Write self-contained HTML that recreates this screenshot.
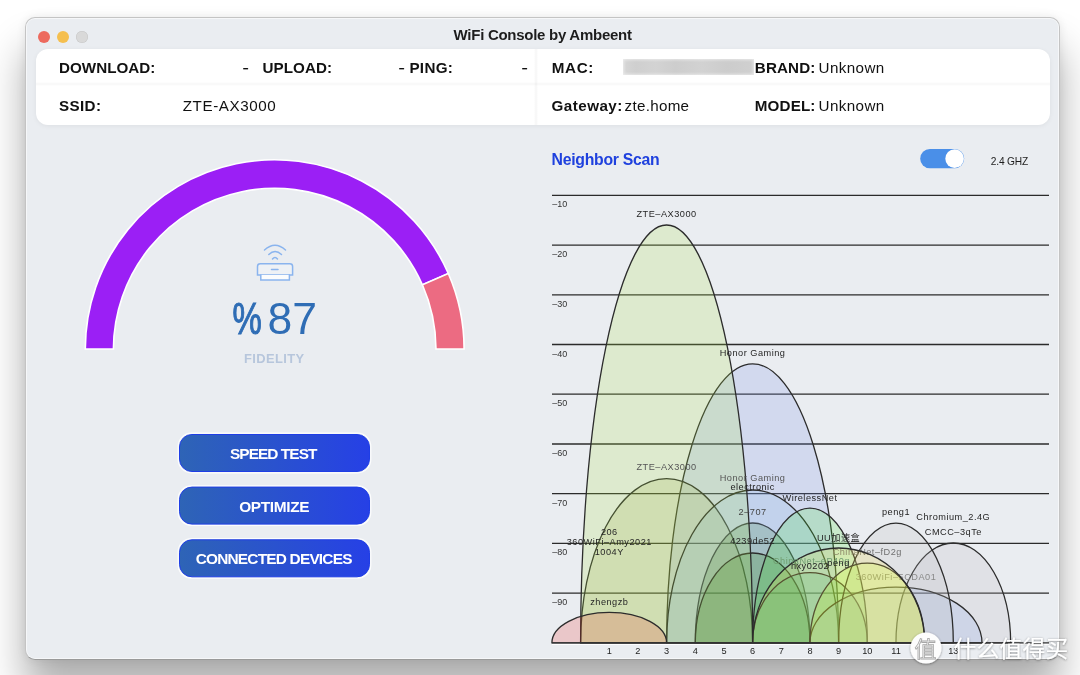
<!DOCTYPE html>
<html><head><meta charset="utf-8"><title>WiFi Console by Ambeent</title><style>
html,body{margin:0;padding:0;}
body{width:1080px;height:675px;overflow:hidden;position:relative;background:#fff;font-family:"Liberation Sans","Noto Sans CJK SC",sans-serif;}
.win{position:absolute;left:25px;top:17px;width:1033px;height:641px;border:1px solid #c4c4c4;border-bottom-color:#9a9a9a;border-radius:10px;background:#eaedf1;
  box-shadow:0 32px 40px 0px rgba(0,0,0,0.32), 0 0 10px rgba(0,0,0,0.08);overflow:hidden;}
.win:after{content:"";position:absolute;left:0;top:0;right:0;bottom:0;border-radius:9px;box-shadow:inset 0 0 0 1px rgba(255,255,255,0.55);}
.tl{position:absolute;top:13px;width:12px;height:12px;border-radius:50%;}
.panel{position:absolute;left:10px;top:31px;width:1014px;height:76px;background:#fff;border-radius:12px;box-shadow:0 1px 5px rgba(0,0,0,0.06);overflow:hidden;}
.abs{position:absolute;}
svg text{font-family:"Liberation Sans","Noto Sans CJK SC",sans-serif;}
.yl{font-size:9px;fill:#333;}
.nl{font-size:9.2px;text-anchor:middle;letter-spacing:0.5px;}
.xl{font-size:9.2px;text-anchor:middle;fill:#222;}
.wm{font-family:"Noto Sans CJK SC","WenQuanYi Zen Hei",sans-serif;}
</style></head><body>
<div class="win">
  <div class="tl" style="left:12px;background:#ed6a5e;"></div>
  <div class="tl" style="left:31px;background:#f5bf4f;"></div>
  <div class="tl" style="left:50px;background:#d9d9d9;box-shadow:inset 0 0 0 0.5px #c6c6c6;"></div>
  <div class="panel">
    <div class="abs" style="left:0;top:33px;width:1014px;height:4px;background:linear-gradient(180deg,rgba(0,0,0,0),rgba(0,0,0,0.03),rgba(0,0,0,0));"></div>
    <div class="abs" style="left:498px;top:0;width:4px;height:76px;background:linear-gradient(90deg,rgba(0,0,0,0),rgba(0,0,0,0.04),rgba(0,0,0,0));"></div>
  </div>
</div>
<div class="abs" style="left:622.8px;top:59.2px;width:131.4px;height:16px;background:linear-gradient(90deg,#d6d6d6 0%,#cfcfcf 10%,#d3d3d3 25%,#cdcdcd 40%,#d2d2d2 60%,#cccccc 80%,#d0d0d0 100%);box-shadow:inset 0 0 3px 1px rgba(255,255,255,0.55);"></div>

<svg class="abs" style="left:0;top:0;will-change:transform;" width="1080" height="675" viewBox="0 0 1080 675">
  <defs>
    <linearGradient id="bg1" x1="0" x2="1" y1="0" y2="0"><stop offset="0" stop-color="#2e64b6"/><stop offset="1" stop-color="#2640e6"/></linearGradient>
    <filter id="wsh" x="-20%" y="-20%" width="140%" height="140%"><feDropShadow dx="0" dy="0.6" stdDeviation="0.9" flood-color="#000" flood-opacity="0.45"/></filter>
  </defs>
  <text x="453.6" y="39.5" font-size="15.0" font-weight="bold" letter-spacing="-0.273" fill="#1d1d1d" >WiFi Console by Ambeent</text>
<text x="59.0" y="72.5" font-size="15.2" font-weight="bold" letter-spacing="0.031" fill="#111" >DOWNLOAD:</text>
<text x="262.6" y="72.5" font-size="15.2" font-weight="bold" letter-spacing="0.05" fill="#111" >UPLOAD:</text>
<text x="409.4" y="72.5" font-size="15.2" font-weight="bold" letter-spacing="0.325" fill="#111" >PING:</text>
<text x="551.7" y="72.5" font-size="15.2" font-weight="bold" letter-spacing="0.667" fill="#111" >MAC:</text>
<text x="754.8" y="72.5" font-size="15.2" font-weight="bold" letter-spacing="0.14" fill="#111" >BRAND:</text>
<text x="818.6" y="72.5" font-size="15.2" font-weight="normal" letter-spacing="0.383" fill="#111" >Unknown</text>
<text x="59.0" y="110.7" font-size="15.2" font-weight="bold" letter-spacing="0.375" fill="#111" >SSID:</text>
<text x="182.75" y="110.7" font-size="15.2" font-weight="normal" letter-spacing="0.583" fill="#111" >ZTE-AX3000</text>
<text x="551.6" y="110.7" font-size="15.2" font-weight="bold" letter-spacing="0.443" fill="#111" >Gateway:</text>
<text x="624.6" y="110.7" font-size="15.2" font-weight="normal" letter-spacing="0.286" fill="#111" >zte.home</text>
<text x="754.8" y="110.7" font-size="15.2" font-weight="bold" letter-spacing="0.14" fill="#111" >MODEL:</text>
<text x="818.6" y="110.7" font-size="15.2" letter-spacing="0.383" fill="#111">Unknown</text>
<text transform="translate(242.4,72.6) scale(1.25,1)" font-size="15.2" fill="#111" stroke="#111" stroke-width="0.25">-</text>
<text transform="translate(398.6,72.6) scale(1.25,1)" font-size="15.2" fill="#111" stroke="#111" stroke-width="0.25">-</text>
<text transform="translate(521.4,72.6) scale(1.25,1)" font-size="15.2" fill="#111" stroke="#111" stroke-width="0.25">-</text>
  <!-- gauge -->
  <path d="M 85.3 349 A 189.4 189.4 0 0 1 448.3 273.5 L 422.4 284.8 A 161.3 161.3 0 0 0 113.4 349 Z" fill="#9b1ff5" stroke="#fff" stroke-width="1.6" stroke-linejoin="miter"/>
  <path d="M 448.3 273.5 A 189.4 189.4 0 0 1 464.1 349 L 436 349 A 161.3 161.3 0 0 0 422.4 284.8 Z" fill="#ec6b82" stroke="#fff" stroke-width="1.6"/>
  <g fill="none" stroke="#8ab4ee" stroke-width="1.5" stroke-linecap="round">
    <path d="M264.5,250 Q275,240.5 285.5,250"/>
    <path d="M268.8,254.5 Q275,248.5 281.5,254.5"/>
    <path d="M272.5,259 Q275,255.8 277.5,259"/>
    <path d="M257.5,275 L257.5,266.5 Q257.5,263.8 260.3,263.8 L289.8,263.8 Q292.6,263.8 292.6,266.5 L292.6,275 Z" fill="#eef1f5"/>
    <path d="M260.8,275 L260.8,280 L289.4,280 L289.4,275" fill="#fbfcfd"/>
    <path d="M271.5,269.5 L278,269.5"/>
  </g>
  <text transform="translate(232.4,333.8) scale(0.74,1)" font-size="44.5" fill="#2f6db5" stroke="#2f6db5" stroke-width="1.1">%</text>
  <text x="267.4" y="333.8" font-size="44.5" fill="#2f6db5">87</text>
  <text x="244.1" y="362.9" font-size="12.9" font-weight="bold" letter-spacing="0.386" fill="#b7c6dc" >FIDELITY</text>
  <!-- buttons -->
  <rect x="178.2" y="433.2" width="192.6" height="39.6" rx="13.2" fill="none" stroke="#fff" stroke-opacity="0.85" stroke-width="1.2"/>
  <rect x="179.5" y="434.5" width="190" height="37" rx="12.5" fill="url(#bg1)" stroke="#1f3ee6" stroke-width="1"/>
  <rect x="178.2" y="485.8" width="192.6" height="39.6" rx="13.2" fill="none" stroke="#fff" stroke-opacity="0.85" stroke-width="1.2"/>
  <rect x="179.5" y="487.1" width="190" height="37" rx="12.5" fill="url(#bg1)" stroke="#1f3ee6" stroke-width="1"/>
  <rect x="178.2" y="538.5" width="192.6" height="39.6" rx="13.2" fill="none" stroke="#fff" stroke-opacity="0.85" stroke-width="1.2"/>
  <rect x="179.5" y="539.8" width="190" height="37" rx="12.5" fill="url(#bg1)" stroke="#1f3ee6" stroke-width="1"/>
  <text x="230.0" y="459.0" font-size="15.4" font-weight="bold" letter-spacing="-0.933" fill="#fff" >SPEED TEST</text>
  <text x="239.2" y="512.0" font-size="15.4" font-weight="bold" letter-spacing="-0.343" fill="#fff" >OPTIMIZE</text>
  <text x="195.7" y="564.2" font-size="15.4" font-weight="bold" letter-spacing="-0.787" fill="#fff" >CONNECTED DEVICES</text>
  <text x="551.6" y="165.2" font-size="15.8" font-weight="bold" letter-spacing="-0.275" fill="#1f41de" >Neighbor Scan</text>
  <rect x="920.2" y="149" width="44" height="19.3" rx="9.65" fill="#4a8fe8"/>
  <circle cx="954.6" cy="158.65" r="9.3" fill="#fff"/>
  <text x="990.8" y="164.7" font-size="10.2" font-weight="normal" letter-spacing="-0.183" fill="#1e1e1e" >2.4 GHZ</text>
  <line x1="552" y1="195.4" x2="1049" y2="195.4" stroke="#2b2b2b" stroke-width="1.3"/>
<text x="552.3" y="207.4" class="yl">–10</text>
<line x1="552" y1="245.1" x2="1049" y2="245.1" stroke="#2b2b2b" stroke-width="1.3"/>
<text x="552.3" y="257.1" class="yl">–20</text>
<line x1="552" y1="294.8" x2="1049" y2="294.8" stroke="#2b2b2b" stroke-width="1.3"/>
<text x="552.3" y="306.8" class="yl">–30</text>
<line x1="552" y1="344.5" x2="1049" y2="344.5" stroke="#2b2b2b" stroke-width="1.3"/>
<text x="552.3" y="356.5" class="yl">–40</text>
<line x1="552" y1="394.2" x2="1049" y2="394.2" stroke="#2b2b2b" stroke-width="1.3"/>
<text x="552.3" y="406.2" class="yl">–50</text>
<line x1="552" y1="444.0" x2="1049" y2="444.0" stroke="#2b2b2b" stroke-width="1.3"/>
<text x="552.3" y="456.0" class="yl">–60</text>
<line x1="552" y1="493.7" x2="1049" y2="493.7" stroke="#2b2b2b" stroke-width="1.3"/>
<text x="552.3" y="505.7" class="yl">–70</text>
<line x1="552" y1="543.4" x2="1049" y2="543.4" stroke="#2b2b2b" stroke-width="1.3"/>
<text x="552.3" y="555.4" class="yl">–80</text>
<line x1="552" y1="593.1" x2="1049" y2="593.1" stroke="#2b2b2b" stroke-width="1.3"/>
<text x="552.3" y="605.1" class="yl">–90</text>
<path d="M666.61,642.8 A86.01,279.00 0 0 1 838.63,642.8 Z" fill="rgba(115,139,232,0.2)" stroke="#2c2c2c" stroke-width="1.3"/>
<path d="M580.60,642.8 A86.01,164.20 0 0 1 752.62,642.8 Z" fill="rgba(148,159,62,0.2)" stroke="#2c2c2c" stroke-width="1.3"/>
<path d="M695.28,642.8 A57.34,119.80 0 0 1 809.96,642.8 Z" fill="rgba(27,99,0,0.2)" stroke="#2c2c2c" stroke-width="1.3"/>
<path d="M666.61,642.8 A86.01,152.80 0 0 1 838.63,642.8 Z" fill="rgba(131,179,224,0.2)" stroke="#2c2c2c" stroke-width="1.3"/>
<path d="M695.28,642.8 A57.34,89.80 0 0 1 809.96,642.8 Z" fill="rgba(33,127,4,0.2)" stroke="#2c2c2c" stroke-width="1.3"/>
<path d="M580.60,642.8 A86.01,417.80 0 0 1 752.62,642.8 Z" fill="rgba(172,223,68,0.2)" stroke="#2c2c2c" stroke-width="1.3"/>
<path d="M752.62,642.8 A57.34,134.80 0 0 1 867.30,642.8 Z" fill="rgba(70,225,52,0.2)" stroke="#2c2c2c" stroke-width="1.3"/>
<path d="M551.93,642.8 A57.34,30.40 0 0 1 666.61,642.8 Z" fill="rgba(236,48,43,0.2)" stroke="#2c2c2c" stroke-width="1.3"/>
<path d="M752.62,642.8 A57.34,70.30 0 0 1 867.30,642.8 Z" fill="rgba(47,173,126,0.2)" stroke="#2c2c2c" stroke-width="1.3"/>
<path d="M895.97,642.8 A57.34,99.80 0 0 1 1010.65,642.8 Z" fill="rgba(184,181,189,0.2)" stroke="#2c2c2c" stroke-width="1.3"/>
<path d="M809.96,642.8 A86.01,55.80 0 0 1 981.98,642.8 Z" fill="rgba(137,165,232,0.2)" stroke="#2c2c2c" stroke-width="1.3"/>
<text x="896.0" y="580.0" class="nl" fill="#7c7c7c">360WiFi–5CDA01</text>
<path d="M838.63,642.8 A57.34,119.80 0 0 1 953.31,642.8 Z" fill="rgba(183,187,184,0.2)" stroke="#2c2c2c" stroke-width="1.3"/>
<path d="M809.96,642.8 A57.34,79.80 0 0 1 924.64,642.8 Z" fill="rgba(192,255,12,0.2)" stroke="#2c2c2c" stroke-width="1.3"/>
<text x="867.3" y="555.0" class="nl" fill="#707070">ChinaNet–fD2g</text>
<path d="M752.62,642.8 A86.01,94.80 0 0 1 924.64,642.8 Z" fill="rgba(255,232,69,0.2)" stroke="#2c2c2c" stroke-width="1.3"/>
<line x1="552" y1="644.4" x2="1049" y2="644.4" stroke="#fff" stroke-width="1"/>
<line x1="552" y1="642.8" x2="1049" y2="642.8" stroke="#333" stroke-width="1.2"/>
<text x="666.6" y="217.0" class="nl" fill="#262626">ZTE–AX3000</text>
<text x="752.6" y="356.0" class="nl" fill="#262626">Honor Gaming</text>
<text x="666.6" y="470.0" class="nl" fill="#555">ZTE–AX3000</text>
<text x="752.6" y="481.0" class="nl" fill="#555">Honor Gaming</text>
<text x="752.6" y="490.0" class="nl" fill="#222">electronic</text>
<text x="810.0" y="500.7" class="nl" fill="#262626">WirelessNet</text>
<text x="752.6" y="515.0" class="nl" fill="#444">2–707</text>
<text x="896.0" y="515.0" class="nl" fill="#222">peng1</text>
<text x="953.3" y="520.0" class="nl" fill="#262626">Chromium_2.4G</text>
<text x="609.3" y="535.0" class="nl" fill="#262626">206</text>
<text x="953.3" y="535.0" class="nl" fill="#262626">CMCC–3qTe</text>
<text x="838.6" y="541.0" class="nl" fill="#262626">UU加速盒</text>
<text x="609.3" y="545.0" class="nl" fill="#262626">360WiFi–Amy2021</text>
<text x="752.6" y="544.4" class="nl" fill="#262626">4239de52</text>
<text x="609.3" y="555.0" class="nl" fill="#262626">1004Y</text>
<text x="811.4" y="564.0" class="nl" fill="#6f9d6f">ChinaNet–eP40g</text>
<text x="810.0" y="569.0" class="nl" fill="#222">hxy0202</text>
<text x="838.6" y="566.0" class="nl" fill="#222">peng</text>
<text x="609.3" y="605.0" class="nl" fill="#262626">zhengzb</text>
<text x="609.3" y="653.8" class="xl">1</text>
<text x="637.9" y="653.8" class="xl">2</text>
<text x="666.6" y="653.8" class="xl">3</text>
<text x="695.3" y="653.8" class="xl">4</text>
<text x="724.0" y="653.8" class="xl">5</text>
<text x="752.6" y="653.8" class="xl">6</text>
<text x="781.3" y="653.8" class="xl">7</text>
<text x="810.0" y="653.8" class="xl">8</text>
<text x="838.6" y="653.8" class="xl">9</text>
<text x="867.3" y="653.8" class="xl">10</text>
<text x="896.0" y="653.8" class="xl">11</text>
<text x="924.6" y="653.8" class="xl">12</text>
<text x="953.3" y="653.8" class="xl">13</text>
  <!-- watermark -->
  <g filter="url(#wsh)">
    <circle cx="926" cy="648" r="15.5" fill="#fdfdfd"/>
    <text x="953.5" y="656.8" class="wm" font-size="22.8" fill="#fff" letter-spacing="0.2">什么值得买</text>
  </g>
  <text x="914.5" y="656.5" class="wm" font-size="22" fill="#f4f4f4" stroke="#a8a8a8" stroke-width="0.8">值</text>
</svg>
</body></html>
